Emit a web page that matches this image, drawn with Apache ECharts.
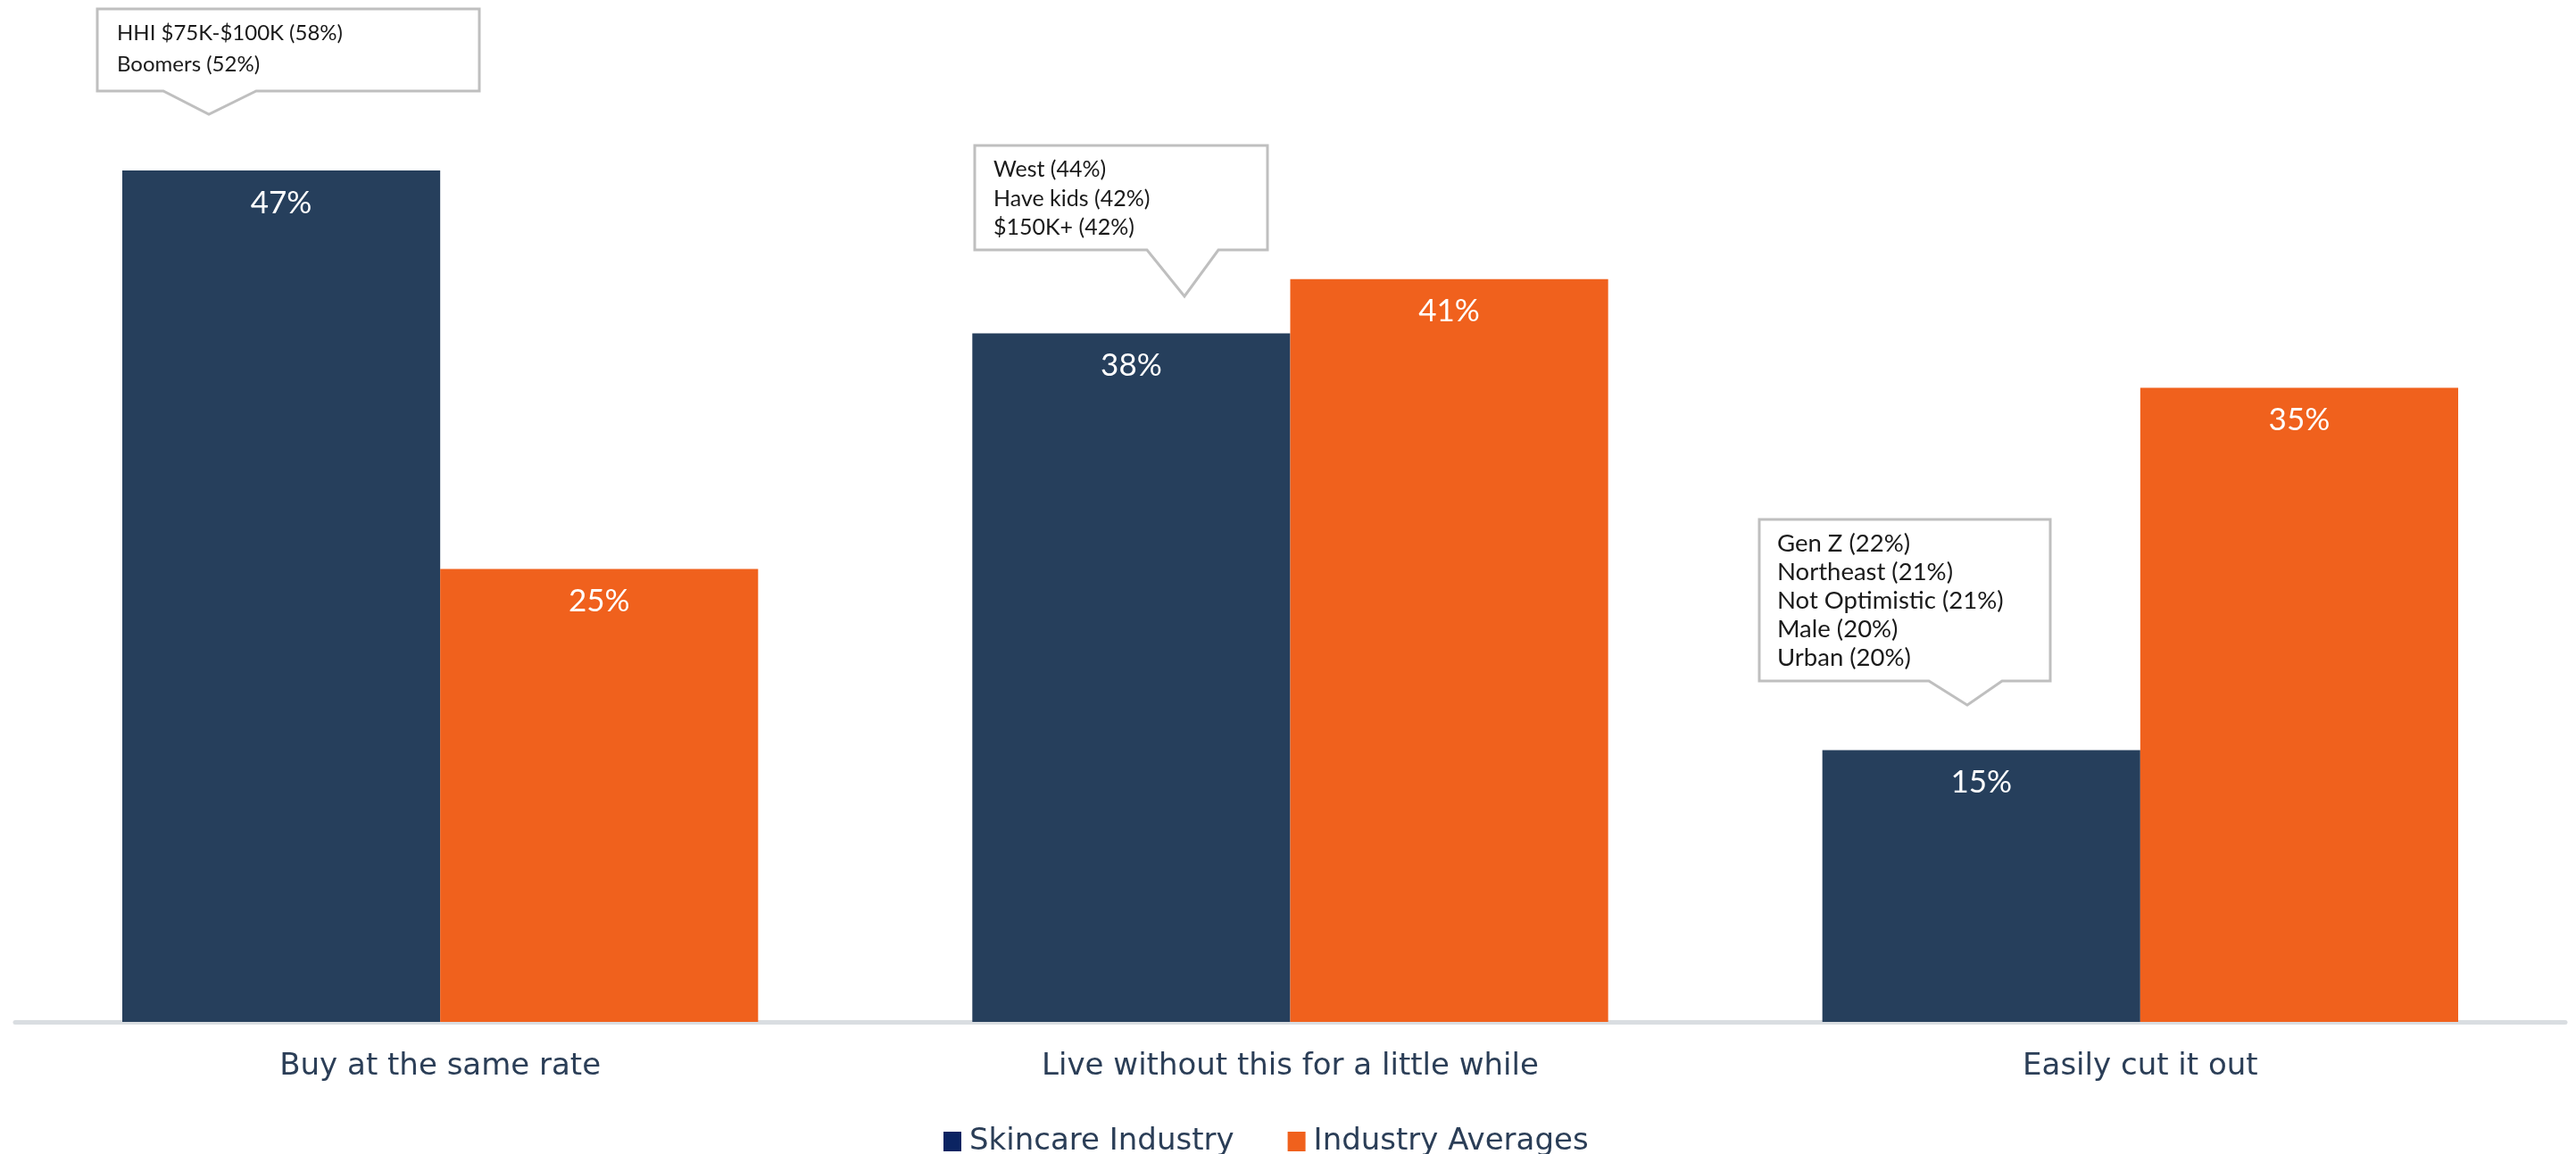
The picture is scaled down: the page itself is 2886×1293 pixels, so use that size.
<!DOCTYPE html>
<html>
<head>
<meta charset="utf-8">
<style>
  html, body { margin: 0; padding: 0; background: #ffffff; }
  #chart { width: 2886px; height: 1293px; }
</style>
<script src="https://cdn.jsdelivr.net/npm/echarts@6/dist/echarts.min.js"></script>
</head>
<body>
<div id="chart"></div>
<script>
// Spending intent by category: skincare vs. all-industry averages (percent)
const categories = ['Buy at the same rate', 'Live without this for a little while', 'Easily cut it out'];
const seriesNames = ['Skincare Industry', 'Industry Averages'];
const skincareValues = [47, 38, 15];
const averageValues = [25, 41, 35];

// Sub-groups that over-index for each skincare answer
const calloutLines = [
  ['HHI $75K-$100K (58%)', 'Boomers (52%)'],
  ['West (44%)', 'Have kids (42%)', '$150K+ (42%)'],
  ['Gen Z (22%)', 'Northeast (21%)', 'Not Optimistic (21%)', 'Male (20%)', 'Urban (20%)']
];

const NAVY = '#263f5c';
const ORANGE = '#f0611d';
const TEXT = '#2b3e57';
const FONT = 'Lato, "Noto Sans", sans-serif';
const WIDE_FONT = '"DejaVu Sans", "Noto Sans", sans-serif';

// Speech-bubble geometry: box, pointer base and tip, text origin and size
const calloutBoxes = [
  { x0: 109, y0: 10, x1: 537, y1: 102, bl: 183, br: 287, tx: 234, ty: 128, textX: 131, textY: 20, lh: 35, fs: 24 },
  { x0: 1092, y0: 163, x1: 1420, y1: 280, bl: 1285, br: 1365, tx: 1327, ty: 332, textX: 1113, textY: 174, lh: 32.5, fs: 25 },
  { x0: 1971, y0: 582, x1: 2297, y1: 763, bl: 2161, br: 2243, tx: 2204, ty: 790, textX: 1991, textY: 593, lh: 32, fs: 27.5 }
];

const chart = echarts.init(document.getElementById('chart'), null, { renderer: 'canvas' });

const graphics = [];
calloutBoxes.forEach((b, i) => {
  graphics.push({
    type: 'polygon',
    z: 10,
    shape: {
      points: [
        [b.x0, b.y0], [b.x1, b.y0], [b.x1, b.y1], [b.br, b.y1],
        [b.tx, b.ty], [b.bl, b.y1], [b.x0, b.y1]
      ]
    },
    style: { fill: '#ffffff', stroke: '#bfbfbf', lineWidth: 3 }
  });
  graphics.push({
    type: 'text',
    z: 11,
    x: b.textX,
    y: b.textY,
    style: {
      text: calloutLines[i].join('\n'),
      font: b.fs + 'px ' + FONT,
      lineHeight: b.lh,
      fill: '#1a1a1a',
      verticalAlign: 'top'
    }
  });
});

const valueLabel = {
  show: true,
  position: 'insideTop',
  distance: 19,
  color: '#ffffff',
  fontSize: 35,
  fontFamily: FONT,
  formatter: '{c}%'
};

chart.setOption({
  animation: false,
  backgroundColor: '#ffffff',
  grid: { left: 17, right: 12, top: 130, bottom: 148, outerBoundsMode: 'none' },
  legend: {
    left: 1057,
    top: 1262,
    padding: 0,
    icon: 'rect',
    itemWidth: 20,
    itemHeight: 22,
    itemGap: 60,
    textStyle: { fontSize: 34, color: TEXT, fontFamily: WIDE_FONT, padding: [0, 0, 0, 4] },
    data: [
      { name: seriesNames[0], itemStyle: { color: '#0b2462' } },
      { name: seriesNames[1], itemStyle: { color: ORANGE } }
    ]
  },
  xAxis: {
    type: 'category',
    data: categories,
    axisLine: { show: true, lineStyle: { color: '#d9dde1', width: 5 } },
    axisTick: { show: false },
    axisLabel: { margin: 33, fontSize: 34, color: TEXT, fontFamily: WIDE_FONT }
  },
  yAxis: {
    type: 'value',
    min: 0,
    max: 50,
    show: false,
    splitLine: { show: false }
  },
  series: [
    {
      name: seriesNames[0],
      type: 'bar',
      data: skincareValues,
      barGap: '0%',
      barCategoryGap: '25.2%',
      itemStyle: { color: NAVY },
      label: valueLabel
    },
    {
      name: seriesNames[1],
      type: 'bar',
      data: averageValues,
      barGap: '0%',
      barCategoryGap: '25.2%',
      itemStyle: { color: ORANGE },
      label: valueLabel
    }
  ],
  graphic: graphics
});
</script>
</body>
</html>
